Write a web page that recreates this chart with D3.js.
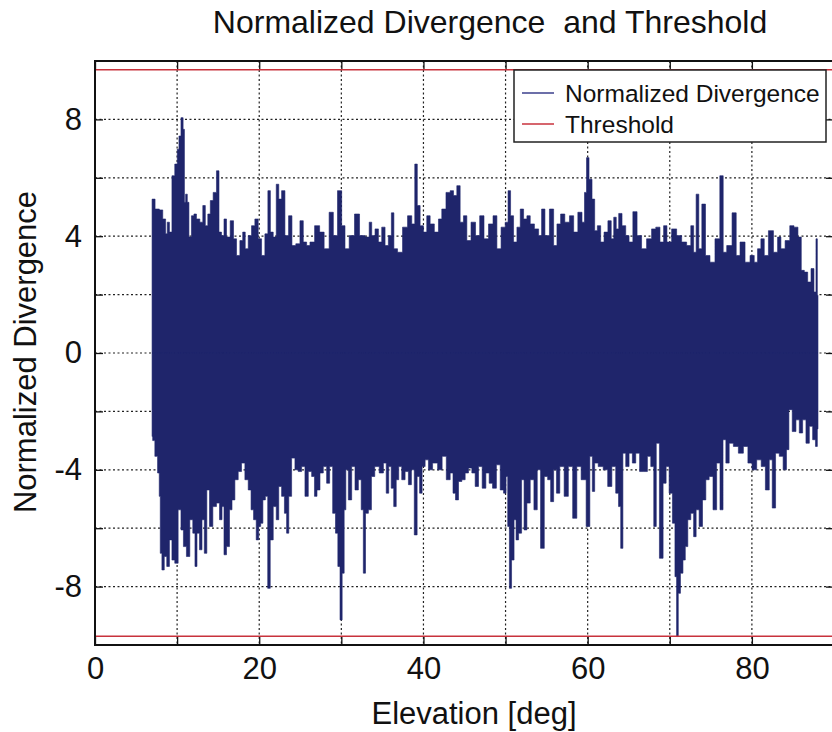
<!DOCTYPE html>
<html>
<head>
<meta charset="utf-8">
<script src="https://cdn.jsdelivr.net/npm/d3@7"></script>
<style>
    body { margin: 0; background: #fff; }
    #chartDiv { width: 832px; height: 732px; }
    text { font-family: "Liberation Sans", Arial, sans-serif; fill: #111; }
    .grid line { stroke: #222; stroke-width: 1.2px; stroke-dasharray: 2,2.5; }
    .axis path { display: none; }
    .axis line { stroke: #111; stroke-width: 1.3px; }
</style>
</head>
<body>
<div id="chartDiv"></div>
<script>

// upper side of the divergence trace (elevation in deg, value)
let upperElev = [6.95,7.68,8.0,8.50,8.70,8.90,9.23,9.51,9.92,10.12,10.33,10.61,10.85,10.93,11.14,11.34,11.54,11.95,12.15,12.56,12.97,13.29,13.58,13.90,14.19,14.59,15.00,15.20,15.61,15.81,16.22,16.71,17.03,17.44,17.85,18.13,18.46,18.86,19.27,19.67,20.08,20.49,20.89,21.22,21.50,21.91,22.24,22.52,22.93,23.33,23.82,24.15,24.76,25.16,25.57,25.98,26.38,27.11,27.60,28.21,28.82,29.23,29.84,30.24,30.65,31.26,31.95,32.48,33.29,
    33.50,33.90,34.31,34.72,35.12,35.53,35.93,36.26,36.54,37.15,37.76,38.37,38.78,39.11,39.39,39.80,40.20,40.61,41.02,41.63,42.03,42.44,43.05,43.46,43.86,44.27,44.67,45.08,45.49,46.10,46.59,47.11,47.64,48.21,48.74,49.15,49.76,50.16,50.45,50.77,51.18,51.59,51.99,52.40,52.80,53.21,53.82,54.23,54.55,55.04,55.65,56.06,56.46,56.95,57.48,58.09,58.50,59.11,59.51,59.72,60.00,60.33,60.73,
    60.98,61.38,61.79,62.20,62.73,63.01,63.34,63.62,63.94,64.43,64.84,65.24,65.77,66.26,66.87,67.48,68.09,68.50,69.11,69.39,69.92,70.53,71.14,71.75,72.36,72.76,73.05,73.37,73.70,74.11,74.59,75.20,75.81,76.38,76.63,77.24,77.93,78.25,78.86,79.47,80.08,80.49,80.89,81.30,81.71,82.32,82.93,83.33,83.74,84.35,84.88,85.37,85.85,86.18,86.59,87.00,87.40,87.72,87.89,88.05];
let upperVal = [5.27,4.93,4.90,4.59,4.08,4.48,4.14,6.07,6.47,6.98,7.43,8.06,7.66,5.16,5.44,5.16,3.97,4.70,4.76,4.59,4.48,5.05,4.36,4.76,5.22,5.50,6.24,4.14,4.02,4.59,3.97,4.53,3.91,3.34,3.85,4.14,3.57,4.02,4.36,4.59,3.91,3.34,4.08,5.56,4.14,3.97,5.78,5.27,5.56,4.02,4.70,3.68,3.74,4.53,3.80,3.68,3.80,4.36,4.14,3.57,4.82,4.02,5.56,4.36,3.57,4.02,4.76,4.02,3.97,
    4.48,4.02,4.25,3.80,4.31,3.68,4.02,4.80,3.57,3.45,4.31,4.70,4.42,6.47,5.05,4.36,4.14,4.70,4.42,4.14,4.59,4.93,5.50,5.56,5.39,5.73,4.48,4.70,3.85,4.48,4.02,4.70,3.91,4.42,4.70,3.57,4.31,4.48,5.56,4.70,3.80,4.31,4.93,4.59,4.70,4.42,4.25,4.02,4.93,4.02,4.93,3.68,4.42,4.76,4.48,4.70,4.14,4.82,4.48,5.50,6.69,5.95,5.27,
    4.19,4.36,3.80,4.14,4.53,3.91,4.65,4.25,4.78,4.36,4.02,3.80,4.84,4.02,3.57,3.91,4.25,4.31,3.80,4.36,3.80,4.25,4.02,3.80,3.68,4.36,3.45,5.44,3.57,5.10,3.34,3.11,3.91,6.07,3.45,3.68,4.80,3.34,3.80,3.11,3.34,3.11,3.57,3.91,3.34,4.19,3.45,3.97,3.57,3.85,4.36,4.31,3.97,2.83,2.77,2.43,2.89,2.09,3.91,1.98];

// lower side of the divergence trace
let lowerElev = [6.95,7.10,7.48,7.76,7.89,8.01,8.29,8.58,8.90,9.23,9.51,9.92,10.33,10.61,10.93,11.34,11.75,12.07,12.28,12.56,12.89,13.17,13.46,13.78,14.11,14.59,15.00,15.33,15.61,15.81,16.22,16.54,16.83,17.24,17.64,18.05,18.46,18.86,19.15,19.47,19.80,20.08,20.28,20.61,20.89,21.18,21.50,21.91,22.24,22.52,22.93,23.21,23.46,23.74,24.15,24.55,24.96,25.37,25.77,26.18,26.59,26.87,27.20,27.60,28.01,28.41,28.74,29.15,29.43,29.72,29.96,30.24,30.45,30.65,31.06,31.46,31.87,32.28,32.56,32.80,33.09,
    33.50,33.83,34.31,34.92,35.33,35.61,35.93,36.22,36.54,36.83,37.15,37.56,37.97,38.37,38.70,39.07,39.39,39.67,40.00,40.41,40.81,41.42,42.03,42.52,43.05,43.46,43.74,44.07,44.47,44.88,45.28,45.69,46.10,46.50,46.91,47.40,47.80,48.21,48.62,49.15,49.55,49.96,50.16,50.37,50.57,50.89,51.18,51.38,51.79,52.11,52.40,52.80,53.21,53.70,54.02,54.51,54.92,55.33,55.65,56.06,56.34,56.87,57.40,57.89,58.46,58.90,59.51,60.12,60.41,60.73,
    60.98,61.59,62.20,62.68,63.21,63.62,63.90,64.15,64.43,64.84,65.24,65.65,66.06,66.59,67.07,67.48,67.89,68.21,68.50,68.98,69.39,69.72,70.12,70.53,70.73,70.93,71.14,71.46,71.75,72.03,72.36,72.76,73.05,73.37,73.78,74.19,74.59,75.00,75.53,75.89,76.34,76.63,77.03,77.44,78.05,78.66,79.27,79.76,80.28,80.89,81.38,81.91,82.32,82.64,83.13,83.54,84.07,84.35,84.67,85.16,85.57,85.98,86.38,86.79,87.20,87.60,87.89,88.05];
let lowerVal = [-2.86,-3.00,-3.54,-4.11,-4.91,-6.86,-7.43,-6.97,-7.31,-6.40,-7.09,-7.20,-5.37,-6.06,-6.63,-6.97,-5.71,-6.17,-7.31,-6.17,-6.74,-5.71,-6.86,-4.69,-5.94,-5.26,-5.14,-5.71,-5.26,-6.91,-6.63,-5.37,-5.03,-4.34,-4.06,-3.77,-4.34,-4.69,-5.37,-5.71,-6.40,-5.94,-5.83,-5.03,-4.91,-8.06,-6.40,-5.26,-5.71,-4.57,-4.91,-5.49,-6.17,-4.91,-3.60,-4.00,-4.06,-3.89,-4.91,-4.06,-4.23,-4.91,-4.69,-4.11,-3.89,-4.46,-3.89,-5.49,-6.17,-7.31,-9.14,-7.54,-5.37,-4.00,-5.03,-3.89,-4.69,-4.34,-5.37,-7.54,-5.49,
    -5.37,-4.23,-3.89,-4.11,-3.77,-4.80,-3.89,-4.63,-5.26,-4.34,-3.89,-4.34,-4.06,-4.51,-4.00,-6.23,-4.23,-4.80,-3.89,-3.66,-4.00,-3.77,-4.00,-3.54,-4.34,-4.11,-4.80,-5.03,-4.40,-4.34,-4.11,-3.94,-4.11,-4.57,-3.89,-4.63,-4.11,-4.46,-4.63,-3.83,-4.69,-4.80,-4.23,-5.94,-8.06,-7.09,-5.71,-6.40,-6.17,-4.34,-6.06,-5.14,-4.34,-5.37,-4.00,-6.69,-4.23,-4.34,-5.09,-4.00,-4.80,-3.89,-4.91,-3.89,-5.66,-3.89,-4.34,-5.94,-3.54,-4.74,
    -3.77,-3.89,-4.00,-4.57,-3.89,-4.80,-5.26,-6.69,-3.43,-3.89,-3.43,-3.77,-3.43,-4.06,-4.06,-3.54,-3.89,-5.94,-3.09,-7.03,-4.46,-3.89,-4.80,-5.83,-7.66,-9.71,-8.23,-7.54,-7.09,-6.63,-5.71,-5.49,-6.29,-5.37,-5.94,-5.03,-4.34,-4.23,-5.37,-3.77,-5.37,-2.97,-3.77,-3.09,-3.20,-3.43,-3.20,-3.77,-4.00,-3.66,-3.89,-4.69,-3.66,-5.31,-3.43,-3.54,-4.00,-3.31,-1.94,-2.69,-2.29,-2.74,-2.29,-3.09,-2.51,-2.97,-3.20,-2.60];

let thresholdVal = [9.7, -9.7];
let xTicks = [0, 10, 20, 30, 40, 50, 60, 70, 80, 90];
let yTicks = [-8, -6, -4, -2, 0, 2, 4, 6, 8];
let legendLabels = ["Normalized Divergence", "Threshold"];


class divergenceChart {
    constructor(parentElement){
        this.parentElement = parentElement;
        this.initVis();
    }

    initVis(){
        let vis = this;

        vis.margin = {top: 61, right: -2, bottom: 87, left: 95};
        vis.width = 832 - vis.margin.left - vis.margin.right;
        vis.height = 732 - vis.margin.top - vis.margin.bottom;

        vis.colorLine = "#1f256b";
        vis.colorThresh = "#c8323c";

        vis.root = d3.select("#" + vis.parentElement).append("svg")
            .attr("width", 832)
            .attr("height", 732);

        vis.svg = vis.root.append("g")
            .attr("transform", "translate(" + vis.margin.left + "," + vis.margin.top + ")");

        vis.x = d3.scaleLinear().domain([0, 90]).range([0, vis.width]);
        vis.y = d3.scaleLinear().domain([-10, 10]).range([vis.height, 0]);

        vis.svg.append("clipPath").attr("id", "plotClip")
            .append("rect")
            .attr("width", vis.width)
            .attr("height", vis.height);

        vis.wrangleData();
    }

    wrangleData(){
        let vis = this;
        vis.upper = upperElev.map((e, i) => ({elev: e, val: upperVal[i]}));
        vis.lower = lowerElev.map((e, i) => ({elev: e, val: lowerVal[i]}));
        vis.updateVis();
    }

    updateVis(){
        let vis = this;

        // dotted grid
        vis.svg.append("g").attr("class", "grid")
            .selectAll("line").data(xTicks.filter(d => d > 0 && d < 90))
            .enter().append("line")
            .attr("x1", d => vis.x(d)).attr("x2", d => vis.x(d))
            .attr("y1", 0).attr("y2", vis.height);

        vis.svg.append("g").attr("class", "grid")
            .selectAll("line").data(yTicks)
            .enter().append("line")
            .attr("x1", 0).attr("x2", vis.width)
            .attr("y1", d => vis.y(d)).attr("y2", d => vis.y(d));

        // the dense trace, drawn as its upper and lower sides
        let area = d3.area()
            .x(d => vis.x(d.elev))
            .y0(vis.y(0))
            .y1(d => vis.y(d.val))
            .curve(d3.curveStep);

        let plot = vis.svg.append("g").attr("clip-path", "url(#plotClip)");

        plot.append("path")
            .datum(vis.upper)
            .attr("d", area)
            .attr("fill", vis.colorLine)
            .attr("stroke", vis.colorLine)
            .attr("stroke-width", 0.6);

        plot.append("path")
            .datum(vis.lower)
            .attr("d", area)
            .attr("fill", vis.colorLine)
            .attr("stroke", vis.colorLine)
            .attr("stroke-width", 0.6);

        // thresholds
        plot.selectAll(".thresh")
            .data(thresholdVal)
            .enter().append("line")
            .attr("class", "thresh")
            .attr("x1", 0).attr("x2", vis.width)
            .attr("y1", d => vis.y(d)).attr("y2", d => vis.y(d))
            .attr("stroke", vis.colorThresh)
            .attr("stroke-width", 1.6);

        // axes, ticks pointing in
        let fmtX = d => d % 20 === 0 ? String(d) : "";
        let fmtY = d => d % 4 === 0 ? String(d) : "";

        vis.svg.append("g").attr("class", "axis")
            .attr("transform", "translate(0," + vis.height + ")")
            .call(d3.axisBottom(vis.x).tickValues(xTicks).tickSize(-8).tickPadding(12).tickFormat(fmtX));
        vis.svg.append("g").attr("class", "axis")
            .call(d3.axisTop(vis.x).tickValues(xTicks).tickSize(-8).tickFormat(""));
        vis.svg.append("g").attr("class", "axis")
            .call(d3.axisLeft(vis.y).tickValues(yTicks).tickSize(-8).tickPadding(13).tickFormat(fmtY));
        vis.svg.append("g").attr("class", "axis")
            .attr("transform", "translate(" + vis.width + ",0)")
            .call(d3.axisRight(vis.y).tickValues(yTicks).tickSize(-8).tickFormat(""));

        vis.svg.selectAll(".axis text")
            .style("font-size", "31px")
            .attr("fill", "#111");

        vis.svg.append("rect")
            .attr("width", vis.width)
            .attr("height", vis.height)
            .attr("fill", "none")
            .attr("stroke", "#111")
            .attr("stroke-width", 2);

        // titles
        vis.root.append("text")
            .attr("x", 490).attr("y", 33)
            .attr("text-anchor", "middle")
            .style("font-size", "32px")
            .style("white-space", "pre")
            .text("Normalized Divergence  and Threshold");

        vis.root.append("text")
            .attr("x", 474).attr("y", 724)
            .attr("text-anchor", "middle")
            .style("font-size", "31px")
            .text("Elevation [deg]");

        vis.root.append("text")
            .attr("transform", "translate(36,352) rotate(-90)")
            .attr("text-anchor", "middle")
            .style("font-size", "31px")
            .text("Normalized Divergence");

        // legend
        let legend = vis.root.append("g").attr("transform", "translate(514,70)");
        legend.append("rect")
            .attr("width", 312).attr("height", 72)
            .attr("fill", "#fff")
            .attr("stroke", "#222")
            .attr("stroke-width", 1.5);

        let items = legend.selectAll(".legend")
            .data(legendLabels)
            .enter().append("g")
            .attr("class", "legend")
            .attr("transform", (d, i) => "translate(0," + (23 + i * 31) + ")");

        items.append("line")
            .attr("x1", 8).attr("x2", 40)
            .attr("stroke", (d, i) => i === 0 ? "#3b3f8c" : vis.colorThresh)
            .attr("stroke-width", 1.5);

        items.append("text")
            .attr("x", 51).attr("y", 8.5)
            .style("font-size", "24.5px")
            .text(d => d);
    }
}

new divergenceChart("chartDiv");
</script>
</body>
</html>
